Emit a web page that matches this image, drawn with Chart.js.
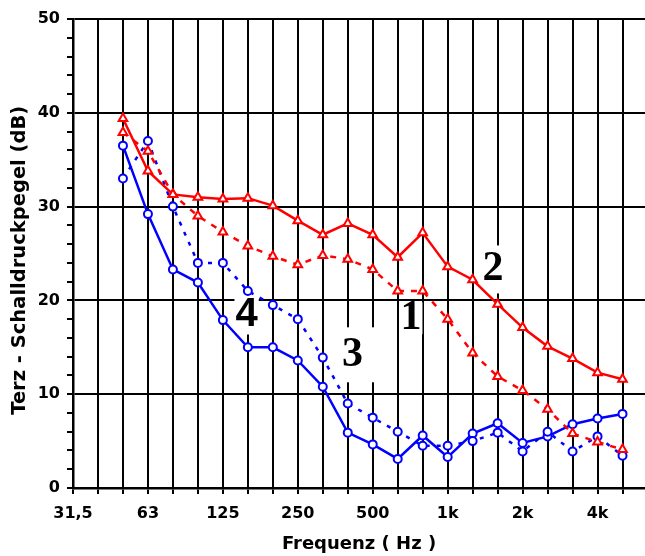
<!DOCTYPE html>
<html>
<head>
<meta charset="utf-8">
<script src="https://cdn.jsdelivr.net/npm/chart.js@4.4.1/dist/chart.umd.min.js"></script>
<style>
  html, body { margin: 0; padding: 0; background: #fff; }
  #wrap { width: 645px; height: 556px; }
</style>
</head>
<body>
<div id="wrap"><canvas id="c" width="645" height="556"></canvas></div>
<script>
// Third-octave band centre frequencies (category positions)
const bands = ['31,5','40','50','63','80','100','125','160','200','250','315','400','500','630','800','1k','1,25k','1,6k','2k','2,5k','3,15k','4k','5k'];
// Band labels shown on the x axis
const shownBands = ['31,5','63','125','250','500','1k','2k','4k'];

// Curve 1: red, dashed, triangles
const curve1 = [null,null,37.9,35.9,31.3,29.0,27.3,25.8,24.7,23.8,24.8,24.4,23.3,21.0,21.0,18.0,14.4,11.9,10.4,8.4,5.8,4.9,4.1];
// Curve 2: red, solid, triangles
const curve2 = [null,null,39.4,33.8,31.3,31.0,30.8,30.9,30.1,28.5,27.0,28.2,27.0,24.6,27.2,23.6,22.2,19.6,17.1,15.1,13.8,12.3,11.6];
// Curve 3: blue, dotted, circles
const curve3 = [null,null,33.0,37.0,30.0,24.0,24.0,21.0,19.5,18.0,13.9,9.0,7.5,6.0,4.5,4.5,5.0,5.9,3.9,6.0,3.9,5.5,3.45];
// Curve 4: blue, solid, circles
const curve4 = [null,null,36.5,29.2,23.3,21.9,17.9,15.0,15.0,13.6,10.8,5.9,4.65,3.1,5.6,3.3,5.8,6.9,4.8,5.5,6.8,7.4,7.9];

// Y axis ticks
const yMin = 0, yMax = 50, yMinorStep = 2, yMajorStep = 10;

// Curve number labels (band index, dB)
const curveLabels = [
  { text: '1', x: 13.53, y: 18.1, font: 'bold 42px "Liberation Serif"', padX: 1, boxH: 32 },
  { text: '2', x: 16.81, y: 23.3, font: 'bold 42px "Liberation Serif"', padX: 3, boxH: 48 },
  { text: '3', x: 11.19, y: 14.2, font: 'bold 42px "Liberation Serif"', padX: 12, boxH: 55 },
  { text: '4', x: 6.95,  y: 18.5, font: 'bold 40px "Liberation Sans"', padX: 1, boxH: 40 }
];

const toXY = arr => arr.map((v, i) => v === null ? null : { x: i, y: v }).filter(p => p !== null);

const RED = '#ff0000', BLUE = '#0000ff';
function ds(label, arr, color, dash, shape, radius) {
  return {
    label: label,
    data: toXY(arr),
    borderColor: color,
    backgroundColor: '#ffffff',
    borderWidth: 2.5,
    borderDash: dash,
    pointStyle: shape,
    pointRadius: radius,
    pointBorderWidth: 2,
    pointBackgroundColor: '#ffffff',
    pointBorderColor: color,
    tension: 0,
    fill: false,
    clip: false
  };
}

const labelPlugin = {
  id: 'curveLabels',
  beforeDatasetsDraw(chart) {
    const ctx = chart.ctx;
    const xs = chart.scales.x, ys = chart.scales.y;
    ctx.save();
    curveLabels.forEach(l => {
      const px = xs.getPixelForValue(l.x);
      const py = ys.getPixelForValue(l.y);
      ctx.font = l.font;
      const w = ctx.measureText(l.text).width;
      ctx.fillStyle = '#ffffff';
      ctx.fillRect(px - w / 2 - l.padX, py - l.boxH / 2, w + 2 * l.padX, l.boxH);
      ctx.fillStyle = '#000000';
      ctx.textAlign = 'center';
      ctx.textBaseline = 'middle';
      ctx.fillText(l.text, px, py);
    });
    ctx.restore();
  }
};

const FAMILY = '"DejaVu Sans", "Liberation Sans", sans-serif';
Chart.defaults.color = '#000';

new Chart(document.getElementById('c'), {
  type: 'line',
  data: {
    datasets: [
      ds('1', curve1, RED, [6, 7], 'triangle', 5),
      ds('2', curve2, RED, [], 'triangle', 5),
      ds('3', curve3, BLUE, [4, 7], 'circle', 4),
      ds('4', curve4, BLUE, [], 'circle', 4)
    ]
  },
  options: {
    responsive: false,
    animation: false,
    devicePixelRatio: 1,
    layout: { autoPadding: false, padding: { top: 19, right: 0, bottom: 0, left: 0 } },
    plugins: { legend: { display: false }, tooltip: { enabled: false } },
    scales: {
      x: {
        type: 'linear',
        min: 0,
        max: 22.9,
        afterBuildTicks: s => { s.ticks = bands.map((b, i) => ({ value: i })); },
        afterFit: s => { s.height = 68; },
        ticks: {
          autoSkip: false,
          maxRotation: 0,
          padding: 10,
          color: '#000',
          font: { family: FAMILY, size: 16, weight: 'bold' },
          callback: v => shownBands.includes(bands[v]) ? bands[v] : ''
        },
        grid: { color: '#000', lineWidth: 2, tickLength: 6, tickColor: '#000' },
        border: { display: true, color: '#000', width: 2.5 },
        title: {
          display: true,
          text: 'Frequenz ( Hz )',
          color: '#000',
          font: { family: FAMILY, size: 18, weight: 'bold' },
          padding: { top: 0, bottom: 1 }
        }
      },
      y: {
        min: yMin,
        max: yMax,
        afterFit: s => { s.width = 73; },
        ticks: {
          autoSkip: false,
          stepSize: yMinorStep,
          padding: 7,
          color: '#000',
          font: { family: FAMILY, size: 16, weight: 'bold' },
          callback: v => (Math.round(v) % yMajorStep === 0) ? String(Math.round(v)) : ''
        },
        grid: {
          color: c => (c.tick && Math.round(c.tick.value) % yMajorStep === 0) ? '#000' : 'rgba(0,0,0,0)',
          tickColor: '#000',
          lineWidth: 2,
          tickLength: 6
        },
        border: { display: true, color: '#000', width: 2.5 },
        title: {
          display: true,
          text: 'Terz - Schalldruckpegel (dB)  ',
          color: '#000',
          font: { family: FAMILY, size: 19.5, weight: 'bold' },
          padding: { top: 8, bottom: 0 }
        }
      }
    }
  },
  plugins: [labelPlugin]
});
</script>
</body>
</html>
